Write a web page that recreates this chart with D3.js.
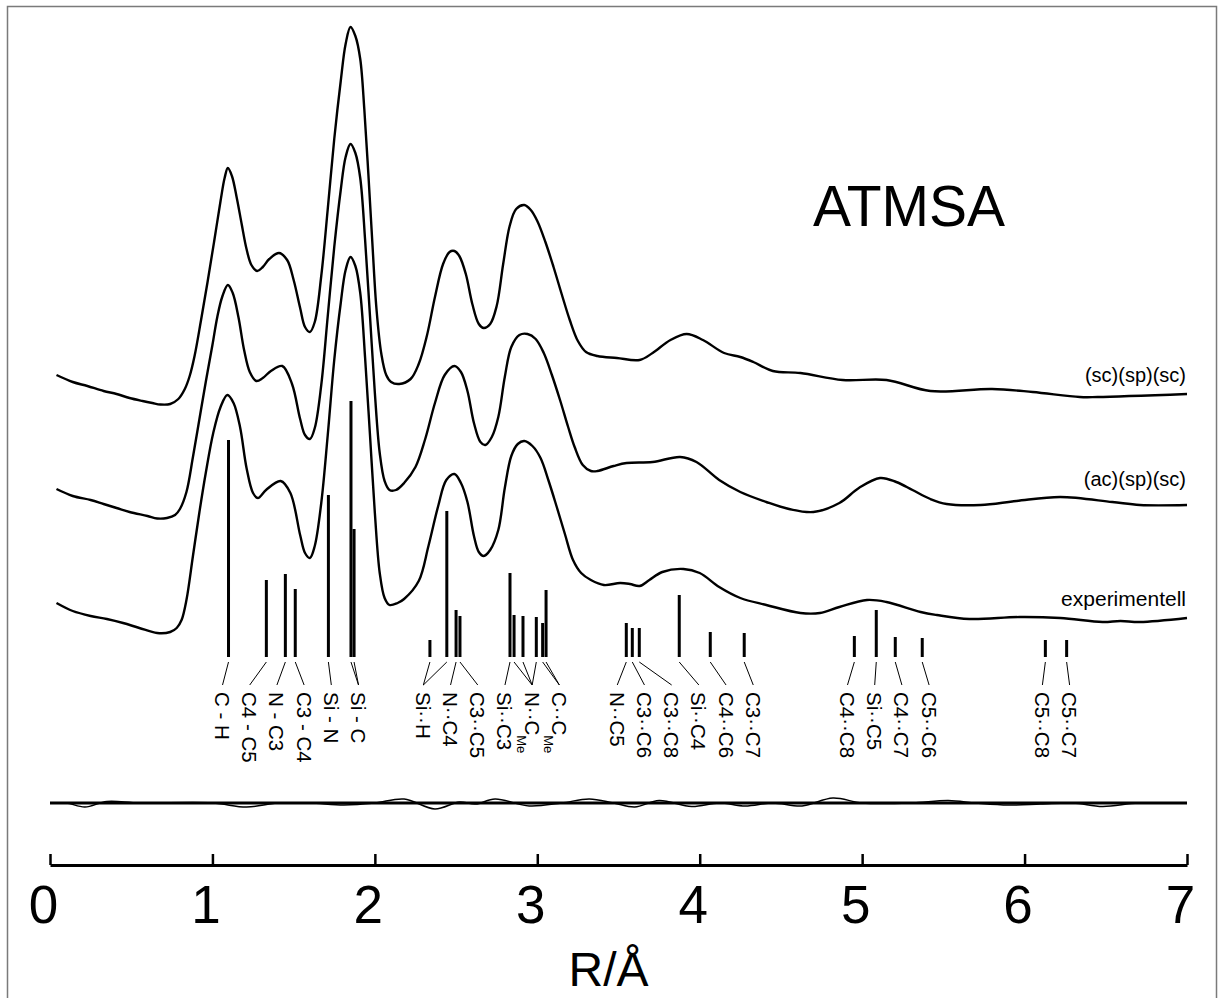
<!DOCTYPE html>
<html><head><meta charset="utf-8">
<script src="https://cdn.jsdelivr.net/npm/d3@7"></script>
<style>
html,body{margin:0;padding:0;background:#fff;}
svg{display:block;}
text{font-family:"Liberation Sans",Arial,Helvetica,sans-serif;fill:#000;}
</style>
</head><body>
<svg id="chart" width="1220" height="998"></svg>
<script>
// ---------- data ----------
const xTicks = [0, 1, 2, 3, 4, 5, 6, 7];
const xLabel = "R/Å";
const title = "ATMSA";
const seriesNames = ["(sc)(sp)(sc)", "(ac)(sp)(sc)", "experimentell"];
const seriesOffset = [4.09, 2.98, 1.85];      // vertical stacking offsets (data units)
const stickBase = 1.46;                        // baseline of the distance sticks
const residualOffset = 0;

const curveSc = [[0.04,0.19],[0.14,0.12],[0.23,0.08],[0.33,0.03],[0.41,0.00],[0.49,-0.04],[0.57,-0.07],[0.63,-0.09],[0.68,-0.105],[0.74,-0.10],[0.79,-0.05],[0.83,0.05],[0.86,0.18],[0.89,0.38],[0.93,0.74],[0.97,1.12],[1.01,1.52],[1.05,1.93],[1.075,2.16],[1.095,2.26],[1.12,2.18],[1.15,1.96],[1.18,1.70],[1.21,1.45],[1.24,1.29],[1.275,1.23],[1.31,1.27],[1.35,1.35],[1.41,1.41],[1.46,1.34],[1.50,1.14],[1.54,0.86],[1.57,0.67],[1.60,0.62],[1.63,0.72],[1.67,1.18],[1.71,1.85],[1.75,2.55],[1.79,3.13],[1.82,3.50],[1.85,3.67],[1.88,3.58],[1.91,3.35],[1.935,2.85],[1.96,2.20],[1.985,1.50],[2.01,0.85],[2.04,0.40],[2.07,0.19],[2.10,0.12],[2.15,0.10],[2.22,0.15],[2.27,0.30],[2.32,0.58],[2.37,0.97],[2.42,1.30],[2.46,1.42],[2.49,1.43],[2.52,1.38],[2.56,1.20],[2.60,0.90],[2.64,0.70],[2.67,0.66],[2.71,0.70],[2.75,0.88],[2.79,1.30],[2.83,1.68],[2.87,1.85],[2.92,1.89],[2.96,1.84],[3.00,1.73],[3.05,1.52],[3.10,1.27],[3.15,1.00],[3.20,0.74],[3.25,0.53],[3.30,0.42],[3.37,0.38],[3.49,0.36],[3.63,0.34],[3.71,0.41],[3.82,0.54],[3.92,0.60],[4.02,0.54],[4.15,0.41],[4.25,0.37],[4.33,0.32],[4.45,0.23],[4.62,0.21],[4.88,0.14],[5.15,0.14],[5.42,0.03],[5.80,0.05],[6.05,0.02],[6.34,-0.03],[6.45,-0.03],[7.00,0.00]];

const curveAc = [[0.04,0.16],[0.14,0.09],[0.25,0.05],[0.33,0.01],[0.41,-0.03],[0.49,-0.07],[0.60,-0.11],[0.66,-0.135],[0.72,-0.13],[0.77,-0.10],[0.80,-0.04],[0.84,0.13],[0.88,0.48],[0.92,0.86],[0.96,1.24],[1.00,1.60],[1.03,1.88],[1.06,2.08],[1.095,2.20],[1.125,2.12],[1.16,1.88],[1.195,1.55],[1.23,1.33],[1.27,1.24],[1.31,1.27],[1.36,1.34],[1.43,1.39],[1.49,1.21],[1.54,0.86],[1.57,0.70],[1.60,0.66],[1.63,0.77],[1.67,1.20],[1.71,1.89],[1.75,2.58],[1.79,3.15],[1.82,3.48],[1.85,3.61],[1.88,3.52],[1.91,3.27],[1.94,2.65],[1.97,1.89],[2.00,1.12],[2.03,0.52],[2.06,0.24],[2.09,0.15],[2.13,0.15],[2.18,0.22],[2.25,0.38],[2.31,0.66],[2.37,1.02],[2.43,1.30],[2.49,1.39],[2.53,1.33],[2.57,1.14],[2.61,0.82],[2.65,0.63],[2.68,0.60],[2.72,0.68],[2.76,0.88],[2.80,1.28],[2.84,1.58],[2.89,1.70],[2.94,1.71],[2.99,1.66],[3.04,1.52],[3.09,1.30],[3.14,1.05],[3.19,0.78],[3.23,0.58],[3.28,0.40],[3.33,0.34],[3.37,0.34],[3.47,0.39],[3.55,0.42],[3.71,0.43],[3.88,0.48],[3.98,0.43],[4.12,0.25],[4.25,0.13],[4.41,0.03],[4.55,-0.04],[4.70,-0.07],[4.86,0.02],[4.98,0.17],[5.11,0.27],[5.21,0.23],[5.31,0.15],[5.42,0.06],[5.52,0.01],[5.73,0.00],[5.95,0.04],[6.22,0.08],[6.54,0.03],[6.71,0.00],[7.00,0.00]];

const curveExp = [[0.04,0.15],[0.14,0.07],[0.25,0.02],[0.35,-0.01],[0.45,-0.05],[0.55,-0.10],[0.66,-0.15],[0.74,-0.14],[0.78,-0.10],[0.81,-0.02],[0.84,0.18],[0.88,0.62],[0.92,1.06],[0.96,1.46],[1.005,1.85],[1.05,2.11],[1.092,2.23],[1.13,2.15],[1.17,1.91],[1.21,1.50],[1.25,1.25],[1.28,1.20],[1.33,1.28],[1.42,1.37],[1.48,1.25],[1.54,0.83],[1.57,0.65],[1.60,0.60],[1.63,0.72],[1.67,1.15],[1.71,1.83],[1.75,2.58],[1.79,3.15],[1.82,3.48],[1.85,3.61],[1.88,3.52],[1.91,3.25],[1.94,2.60],[1.97,1.83],[2.00,1.05],[2.03,0.45],[2.06,0.20],[2.09,0.13],[2.14,0.15],[2.18,0.19],[2.27,0.37],[2.33,0.72],[2.39,1.12],[2.44,1.38],[2.49,1.44],[2.53,1.35],[2.57,1.16],[2.61,0.82],[2.64,0.66],[2.67,0.62],[2.71,0.68],[2.76,0.88],[2.80,1.30],[2.84,1.62],[2.88,1.74],[2.92,1.77],[2.97,1.72],[3.02,1.60],[3.07,1.37],[3.12,1.11],[3.17,0.84],[3.22,0.58],[3.27,0.45],[3.33,0.38],[3.41,0.33],[3.51,0.35],[3.57,0.34],[3.63,0.32],[3.69,0.38],[3.77,0.46],[3.90,0.49],[4.00,0.45],[4.12,0.31],[4.25,0.20],[4.41,0.13],[4.62,0.05],[4.74,0.05],[4.86,0.11],[5.03,0.18],[5.15,0.16],[5.36,0.06],[5.46,0.03],[5.66,-0.01],[5.97,0.01],[6.22,0.00],[6.48,-0.04],[6.59,-0.03],[6.71,-0.04],[7.00,0.00]];

const residual = [[0,0],[0.10,0],[0.215,-0.04],[0.35,0.015],[0.55,0],[1.00,0],[1.21,-0.04],[1.40,0],[1.60,0],[1.81,-0.02],[2.00,0],[2.18,0.04],[2.37,-0.06],[2.52,0.01],[2.62,-0.01],[2.74,0.04],[2.95,-0.03],[3.15,0],[3.32,0.04],[3.47,0],[3.60,-0.04],[3.75,0.025],[3.95,-0.035],[4.12,0],[4.28,-0.03],[4.45,0],[4.63,-0.03],[4.82,0.05],[5.00,0],[5.30,0],[5.53,0.025],[5.70,0],[5.90,-0.02],[6.10,-0.01],[6.30,0],[6.48,-0.035],[6.70,0],[7.00,0]];

const stickR = [1.099,1.332,1.449,1.510,1.714,1.853,1.872,2.339,2.443,2.500,2.524,2.832,2.857,2.912,2.994,3.033,3.054,3.548,3.585,3.628,3.874,4.065,4.274,4.952,5.087,5.204,5.370,6.128,6.259];
const stickH = [2.17,0.77,0.83,0.68,1.62,2.56,1.28,0.17,1.46,0.47,0.41,0.84,0.42,0.41,0.40,0.34,0.67,0.34,0.29,0.29,0.62,0.25,0.24,0.21,0.47,0.20,0.19,0.17,0.17];
const stickLabel = [0,1,2,3,4,5,5,6,6,7,8,9,10,10,10,11,11,12,13,14,15,16,17,18,19,20,21,22,23];
const labelText = ["C - H","C4 - C5","N - C3","C3 - C4","Si - N","Si - C","Si··H","N··C4","C3··C5","Si··C3","N··C","C··C","N··C5","C3··C6","C3··C8","Si··C4","C4··C6","C3··C7","C4··C8","Si··C5","C4··C7","C5··C6","C5··C8","C5··C7"];
const labelSub = {10: "Me", 11: "Me"};

// ---------- layout ----------
const svg = d3.select("#chart");
const x = d3.scaleLinear().domain([0, 7]).range([50, 1187]);
const y = d3.scaleLinear().domain([0, 8]).range([803, 3]);

// frame
svg.append("rect").attr("x", 7.5).attr("y", 6.5).attr("width", 1209).attr("height", 1010)
  .attr("fill", "none").attr("stroke", "#7a7a7a").attr("stroke-width", 1.5);

const line = d3.line().curve(d3.curveCatmullRom.alpha(0.5));

// stacked curves
const curves = [curveSc, curveAc, curveExp];
const nameDy = [-12, -19, -12];
const nameSize = [20, 20, 21];
curves.forEach((c, i) => {
  svg.append("path")
    .attr("d", line(c.map(d => [x(d[0]), y(d[1] + seriesOffset[i])])))
    .attr("fill", "none").attr("stroke", "#000").attr("stroke-width", 2.4)
    .attr("stroke-linejoin", "round");
  const last = c[c.length - 1];
  svg.append("text")
    .attr("x", x(last[0]) - 1).attr("y", y(last[1] + seriesOffset[i]) + nameDy[i])
    .attr("text-anchor", "end").attr("font-size", nameSize[i])
    .text(seriesNames[i]);
});

// residual: zero line + difference curve
svg.append("path")
  .attr("d", line([[x(0), y(residualOffset)], [x(7), y(residualOffset)]]))
  .attr("stroke", "#000").attr("stroke-width", 3).attr("fill", "none");
svg.append("path")
  .attr("d", line(residual.map(d => [x(d[0]), y(d[1] + residualOffset)])))
  .attr("stroke", "#000").attr("stroke-width", 1.5).attr("fill", "none");

// sticks
svg.append("g").selectAll("rect").data(stickR).join("rect")
  .attr("x", d => x(d) - 1.5).attr("width", 3)
  .attr("y", (d, i) => y(stickBase + stickH[i]))
  .attr("height", (d, i) => y(stickBase) - y(stickBase + stickH[i]))
  .attr("fill", "#000");

// label placement: evenly spaced clusters that never overlap
const targets = labelText.map((t, i) => d3.mean(stickR.filter((r, j) => stickLabel[j] === i).map(r => x(r))));
const S = 27.2;
let clusters = targets.map((t, i) => ({first: i, last: i}));
const posOf = (c, k) => {
  const mid = (targets[c.first] + targets[c.last]) / 2;
  const n = c.last - c.first + 1;
  return mid + S * (k - c.first - (n - 1) / 2);
};
let changed = true;
while (changed) {
  changed = false;
  for (let i = 0; i < clusters.length - 1; i++) {
    const a = clusters[i], b = clusters[i + 1];
    if (posOf(a, a.last) + S > posOf(b, b.first) + 0.01) {
      clusters.splice(i, 2, {first: a.first, last: b.last});
      changed = true; break;
    }
  }
}
const labelX = [];
clusters.forEach(c => { for (let k = c.first; k <= c.last; k++) labelX[k] = posOf(c, k); });

const leadTop = y(stickBase) + 5, leadBot = y(stickBase) + 28, textTop = y(stickBase) + 35;
svg.append("g").selectAll("line").data(stickR).join("line")
  .attr("x1", d => x(d)).attr("y1", leadTop)
  .attr("x2", (d, i) => labelX[stickLabel[i]]).attr("y2", leadBot)
  .attr("stroke", "#000").attr("stroke-width", 1);

const lbl = svg.append("g").selectAll("text").data(labelText).join("text")
  .attr("transform", (d, i) => `translate(${labelX[i]},${textTop}) rotate(90)`)
  .attr("dominant-baseline", "central")
  .attr("font-size", 20.5)
  .text(d => d);
lbl.filter((d, i) => labelSub[i]).append("tspan")
  .attr("font-size", 13).attr("dy", 10).attr("dominant-baseline", "central")
  .text(d => labelSub[labelText.indexOf(d)]);

// x axis (ticks pointing up)
const axis = svg.append("g").attr("transform", `translate(0,${y(0) + 62})`)
  .call(d3.axisBottom(x).tickValues(xTicks).tickFormat(d3.format("d")).tickSize(-11).tickSizeOuter(0));
axis.select(".domain").attr("stroke-width", 3).attr("stroke", "#000");
axis.selectAll(".tick line").attr("stroke-width", 2.5).attr("stroke", "#000");
axis.selectAll(".tick text").attr("x", -7).attr("y", 58).attr("dy", null)
  .attr("font-size", 53).attr("font-family", '"Liberation Sans",Arial,sans-serif').attr("fill", "#000");

svg.append("text").attr("x", (x.range()[0] + x.range()[1]) / 2 - 10).attr("y", 986)
  .attr("text-anchor", "middle").attr("font-size", 48).text(xLabel);

svg.append("text").attr("x", 813).attr("y", 226).attr("font-size", 57).text(title);
</script>
</body></html>
